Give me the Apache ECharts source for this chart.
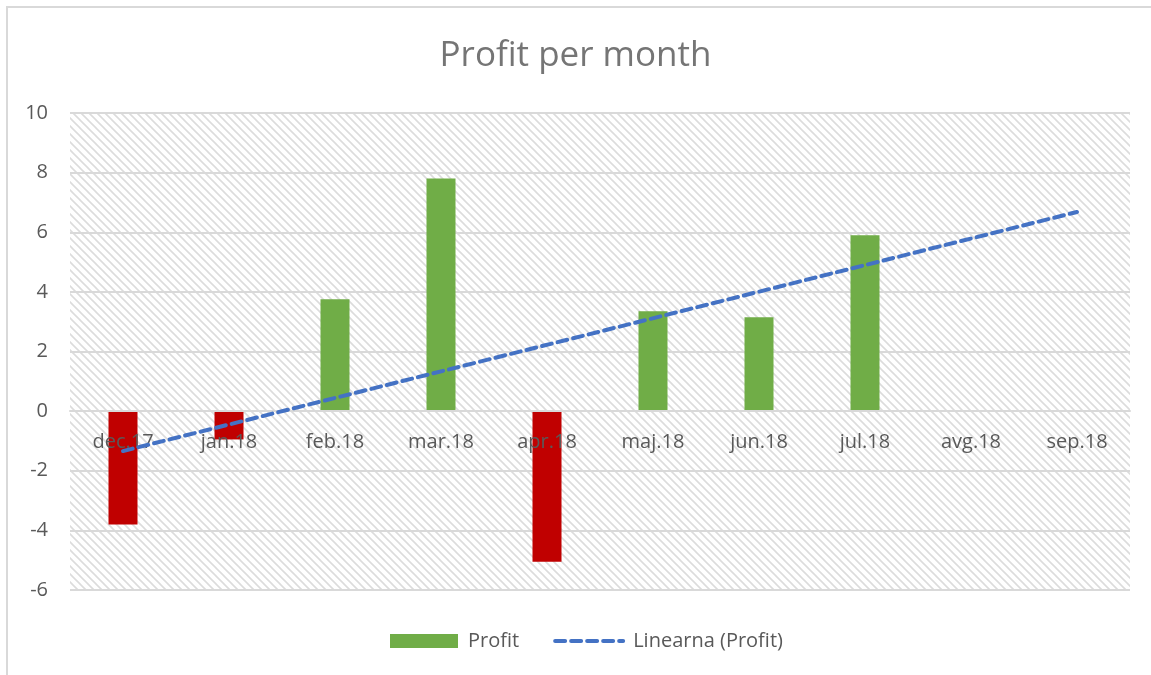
<!DOCTYPE html>
<html>
<head>
<meta charset="utf-8">
<title>Profit per month</title>
<script src="https://cdn.jsdelivr.net/npm/echarts@6/dist/echarts.min.js"></script>
<style>
  html, body { margin: 0; padding: 0; background: #fff; }
  #chart { width: 1151px; height: 675px; }
</style>
</head>
<body>
<div id="chart"></div>
<script>
// podaci
var months = ['dec.17', 'jan.18', 'feb.18', 'mar.18', 'apr.18', 'maj.18', 'jun.18', 'jul.18', 'avg.18', 'sep.18'];
var profit = [-3.8, -0.95, 3.75, 7.8, -5.05, 3.35, 3.15, 5.9, null, null];
// linearni trend, krajnje tocke ocitane sa slike
var trendEnds = [-1.34, 6.68];
var yTicks = [-6, -4, -2, 0, 2, 4, 6, 8, 10];

// srafura pozadine
function makeHatch() {
    var c = document.createElement('canvas');
    c.width = 8;
    c.height = 8;
    var ctx = c.getContext('2d');
    ctx.fillStyle = '#ffffff';
    ctx.fillRect(0, 0, 8, 8);
    ctx.strokeStyle = '#dcdcdc';
    ctx.lineWidth = 1.6;
    ctx.beginPath();
    ctx.moveTo(-1, -1); ctx.lineTo(9, 9);
    ctx.moveTo(-5, 3); ctx.lineTo(5, 13);
    ctx.moveTo(3, -5); ctx.lineTo(13, 5);
    ctx.stroke();
    return c;
}

var myChart = echarts.init(document.getElementById('chart'));
var option = {
    animation: false,
    textStyle: { fontFamily: 'Open Sans' },
    title: {
        text: 'Profit per month',
        left: 'center',
        top: 34,
        textStyle: { color: '#757575', fontSize: 35, fontWeight: 'normal', fontFamily: 'Open Sans' }
    },
    graphic: [{
        type: 'rect',
        shape: { x: 7, y: 7, width: 1300, height: 800 },
        style: { fill: 'none', stroke: '#d9d9d9', lineWidth: 2 },
        silent: true
    }],
    grid: {
        left: 70,
        right: 21,
        top: 113,
        bottom: 85,
        show: true,
        borderWidth: 0,
        backgroundColor: { image: makeHatch(), repeat: 'repeat' }
    },
    legend: {
        bottom: 19,
        left: 385,
        itemGap: 34,
        itemWidth: 68,
        itemHeight: 14,
        textStyle: { color: '#595959', fontSize: 20, padding: [0, 0, 0, 5] },
        data: [
            { name: 'Profit', icon: 'rect', itemStyle: { color: '#70AD47' } },
            {
                name: 'Linearna (Profit)',
                itemStyle: { opacity: 0 },
                lineStyle: { color: '#4472C4', width: 4, type: [10, 6], cap: 'round' }
            }
        ]
    },
    xAxis: {
        type: 'category',
        data: months,
        offset: -179,
        axisLine: { onZero: false, lineStyle: { color: '#d9d9d9', width: 2 } },
        axisTick: { show: false },
        axisLabel: { color: '#595959', fontSize: 20, margin: 21 },
        z: 3
    },
    yAxis: {
        type: 'value',
        min: yTicks[0],
        max: yTicks[yTicks.length - 1],
        interval: 2,
        axisLine: { show: false },
        axisTick: { show: false },
        axisLabel: { color: '#595959', fontSize: 20, margin: 22 },
        splitLine: { lineStyle: { color: '#d9d9d9', width: 2 } }
    },
    series: [
        {
            name: 'Profit',
            type: 'bar',
            barWidth: 29,
            data: profit,
            itemStyle: {
                color: function (p) { return p.value < 0 ? '#C00000' : '#70AD47'; }
            },
            z: 2
        },
        {
            name: 'Linearna (Profit)',
            type: 'line',
            symbol: 'none',
            data: [[0, trendEnds[0]], [months.length - 1, trendEnds[1]]],
            itemStyle: { color: '#4472C4' },
            lineStyle: { color: '#4472C4', width: 4, type: [10, 6], cap: 'round' },
            z: 4
        }
    ]
};
myChart.setOption(option);
</script>
</body>
</html>
